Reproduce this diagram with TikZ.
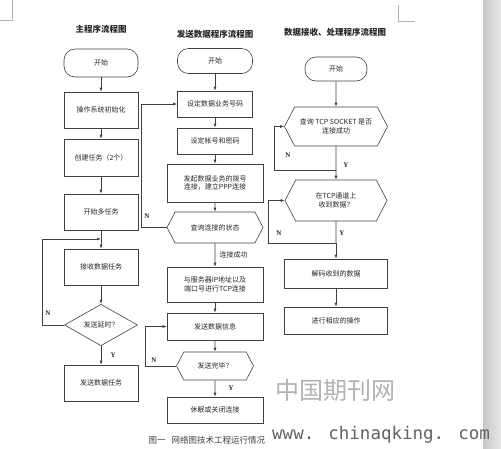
\documentclass[tikz,border=0pt]{standalone}
\usepackage{fontspec}
\setmainfont{Liberation Serif}
\newfontfamily\cjk{Noto Sans CJK SC}
\newfontfamily\wmfont{DejaVu Sans Mono}
\usepackage{xcolor}
\usepackage{tikz}
\usetikzlibrary{arrows.meta,positioning,calc,shapes.geometric,shapes.symbols}

\begin{document}
\begin{tikzpicture}[x=1pt,y=-1pt,
  every node/.style={font=\cjk\fontsize{7}{8.5}\selectfont,text=black!85},
  ln/.style={draw=black!75,line width=0.6pt},
  ar/.style={ln,-{Latex[length=4pt,width=3pt]}},
  bx/.style={ln,rectangle,align=center,inner sep=1pt},
  tm/.style={ln,rectangle,rounded corners=11pt,inner sep=1pt},
  hx/.style={ln,signal,signal to=west and east,signal pointer angle=125,align=center,inner sep=1pt},
  dm/.style={ln,diamond,inner sep=0pt},
  ttl/.style={font=\cjk\fontsize{8.5}{10}\selectfont\bfseries},
  yn/.style={font=\rmfamily\bfseries\fontsize{7}{8}\selectfont}]
 \useasboundingbox (0,0) rectangle (501,448);
 \fill[left color=black!22,right color=black!9] (483,0) rectangle (501,448);
 \draw[black!30,line width=0.4pt] (0,20) -- (12,20) -- (12,0);
 \draw[black!30,line width=0.4pt] (415,21) -- (398,21) -- (398,5);
 % titles
 \node[ttl] (t1) at (101,29) {主程序流程图};
 \node[ttl] (t2) at (215,34) {发送数据程序流程图};
 \node[ttl] (t3) at (335,32) {数据接收、处理程序流程图};
 % main program
 \node[tm,minimum width=74,minimum height=28] (m0) at (101,63) {开始};
 \node[bx,minimum width=74,minimum height=36] (m1) at (101,110) {操作系统初始化};
 \node[bx,minimum width=74,minimum height=37] (m2) at (101,157.5) {创建任务（2个）};
 \node[bx,minimum width=74,minimum height=36] (m3) at (101,212) {开始多任务};
 \node[bx,minimum width=74,minimum height=36] (m4) at (101,267) {接收数据任务};
 \node[dm,minimum width=73,minimum height=40] (m5) at (101,325) {发送延时？};
 \node[bx,minimum width=74,minimum height=36] (m6) at (101,383) {发送数据任务};
 \coordinate (mj) at (101,239);
 % sending program
 \node[tm,minimum width=75,minimum height=25] (s0) at (215,61) {开始};
 \node[bx,minimum width=75,minimum height=26] (s1) at (215,104) {设定数据业务号码};
 \node[bx,minimum width=75,minimum height=26] (s2) at (215,141) {设定帐号和密码};
 \node[bx,minimum width=96,minimum height=38] (s3) at (215,183) {发起数据业务的拨号\\连接，建立PPP连接};
 \node[hx,minimum width=96,minimum height=31] (s4) at (215,227.5) {查询连接的状态};
 \node[bx,minimum width=96,minimum height=35] (s5) at (215,284.5) {与服务器IP地址以及\\端口号进行TCP连接};
 \node[bx,minimum width=96,minimum height=27] (s6) at (215,326.5) {发送数据信息};
 \node[hx,minimum width=77,minimum height=28] (s7) at (215,366) {发送完毕？};
 \node[bx,minimum width=96,minimum height=26] (s8) at (215,410) {休眠或关闭连接};
 % receiving program
 \node[tm,minimum width=62,minimum height=24] (r0) at (336,69) {开始};
 \node[hx,minimum width=103,minimum height=39] (r1) at (336,126.5) {查询 TCP SOCKET 是否\\连接成功};
 \node[hx,minimum width=102,minimum height=41] (r2) at (336,200.5) {在TCP通道上\\收到数据？};
 \node[bx,minimum width=103,minimum height=29] (r3) at (336,273.5) {解码收到的数据};
 \node[bx,minimum width=103,minimum height=27] (r4) at (336,320.5) {进行相应的操作};
 \coordinate (rj1) at (336,170);
 \coordinate (rj2) at (336,243);
 \foreach \a/\b in {m0/m1,m1/m2,m2/m3,m3/m4,m4/m5,s0/s1,s1/s2,s2/s3,s3/s4,s5/s6,s6/s7,r0/r1,r3/r4}
   \draw[ar] (\a) -- (\b);
 \draw[ar] (m5) -- node[yn,right=6pt] {Y} (m6);
 \draw[ar] (s4) -- node[right=1pt] {连接成功} (s5);
 \draw[ar] (s7) -- node[yn,right=10pt] {Y} (s8);
 \draw[ln] (r1) -- (rj1);
 \draw[ar] (rj1) -- (r2);
 \draw[ln] (r2) -- (rj2);
 \draw[ar] (rj2) -- (r3);
 % loops back
 \draw[ar] (m5.west) -- ++(-22,0) |- (mj);
 \draw[ar] (s4.west) -- ++(-25,0) |- (s1.west);
 \draw[ar] (s7.west) -- ++(-31,0) |- (s6.west);
 \draw[ar] (rj1) -- ++(-62,0) |- (r1.west);
 \draw[ar] (rj2) -- ++(-68,0) |- (r2.west);
 \node[yn] (n1) at (48,313) {N};
 \node[yn] (n2) at (147,216) {N};
 \node[yn] (n3) at (154,360) {N};
 \node[yn] (n4) at (288,155) {N};
 \node[yn] (y4) at (346,165) {Y};
 \node[yn] (n5) at (279,233) {N};
 \node[yn] (y5) at (342,233) {Y};
 % caption and marks
 \node[font=\cjk\fontsize{8.5}{10}\selectfont,text=black!75,anchor=west] (cap) at (145,440) {图一\hspace{6pt}网络图技术工程运行情况};
 \node[font=\cjk\fontsize{24}{26}\selectfont,text=black!30] (wm1) at (335,390) {中国期刊网};
 \node[font=\wmfont\fontsize{17.5}{20}\selectfont,text=black!62,anchor=west,inner sep=0pt] (wm2) at (272,435) {www. chinaqking. com};
\end{tikzpicture}
\end{document}
